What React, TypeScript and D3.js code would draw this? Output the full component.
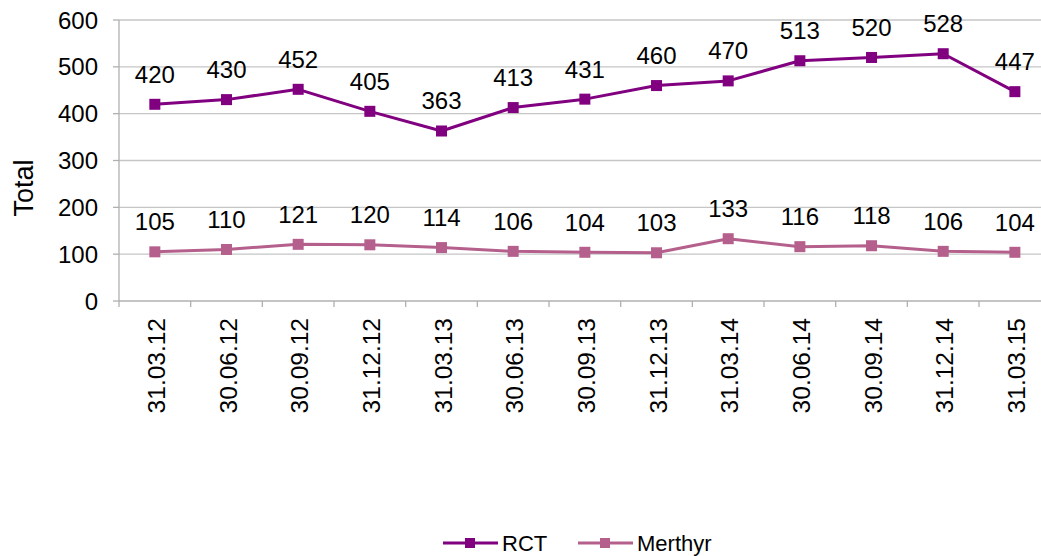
import React from "react";
import * as d3 from "d3";

const categories = ["31.03.12","30.06.12","30.09.12","31.12.12","31.03.13","30.06.13","30.09.13","31.12.13","31.03.14","30.06.14","30.09.14","31.12.14","31.03.15"];
const rct = [420,430,452,405,363,413,431,460,470,513,520,528,447];
const merthyr = [105,110,121,120,114,106,104,103,133,116,118,106,104];
const yTicks = [0,100,200,300,400,500,600];
const seriesNames = ["RCT","Merthyr"];
const seriesColors = ["#800080","#B5608C"];

const W = 1041, H = 556;
const left = 119, top = 20, bottom = 301;
const step = 71.67;
const right = left + step * categories.length;
const font = "'Liberation Sans', Arial, sans-serif";

export default function App() {
  const x = d3.scaleBand<string>().domain(categories).range([left, right]);
  const y = d3.scaleLinear().domain([0, 600]).range([bottom, top]);
  const line = d3.line<number>().x((_, i) => (x(categories[i]) as number) + x.bandwidth() / 2).y(d => y(d));
  const series = [rct, merthyr];
  const ms = 11;
  return (
    <svg width={W} height={H} style={{ position: "absolute", left: 0, top: 0, background: "#fff" }} fontFamily={font}>
      {yTicks.map(t => (
        <g key={t}>
          {t > 0 && <line x1={left} x2={right} y1={y(t)} y2={y(t)} stroke="#c6c6c6" strokeWidth={1.3} />}
          <line x1={left - 6} x2={left} y1={y(t)} y2={y(t)} stroke="#b0b0b0" strokeWidth={1.3} />
          <text x={left - 21} y={y(t) + 8.5} textAnchor="end" fontSize={24} fill="#000">{t}</text>
        </g>
      ))}
      <line x1={left} x2={left} y1={top} y2={bottom} stroke="#b0b0b0" strokeWidth={1.3} />
      <line x1={left} x2={right} y1={bottom} y2={bottom} stroke="#b0b0b0" strokeWidth={1.3} />
      {categories.map((c, i) => (
        <g key={c}>
          <line x1={left + i * step} x2={left + i * step} y1={bottom} y2={bottom + 6} stroke="#b0b0b0" strokeWidth={1.3} />
          <text transform={`translate(${(x(c) as number) + x.bandwidth() / 2 + 10},${bottom + 17}) rotate(-90)`} textAnchor="end" fontSize={24.5} fill="#000">{c}</text>
        </g>
      ))}
      <text transform={`translate(33,188) rotate(-90)`} textAnchor="middle" fontSize={27} fill="#000">Total</text>
      {series.map((s, si) => (
        <g key={si}>
          <path d={line(s) as string} fill="none" stroke={seriesColors[si]} strokeWidth={3} strokeLinejoin="round" />
          {s.map((v, i) => {
            const cx = (x(categories[i]) as number) + x.bandwidth() / 2;
            return (
              <g key={i}>
                <rect x={cx - ms / 2} y={y(v) - ms / 2} width={ms} height={ms} fill={seriesColors[si]} />
                <text x={cx} y={y(v) - 21.5} textAnchor="middle" fontSize={24} fill="#000">{v}</text>
              </g>
            );
          })}
        </g>
      ))}
      {seriesNames.map((n, si) => {
        const lx = si === 0 ? 443 : 578;
        return (
          <g key={n}>
            <line x1={lx} x2={lx + 55} y1={543} y2={543} stroke={seriesColors[si]} strokeWidth={3} />
            <rect x={lx + 27 - 5} y={538} width={10} height={10} fill={seriesColors[si]} />
            <text x={lx + 59} y={551} fontSize={22} fill="#000">{n}</text>
          </g>
        );
      })}
    </svg>
  );
}
